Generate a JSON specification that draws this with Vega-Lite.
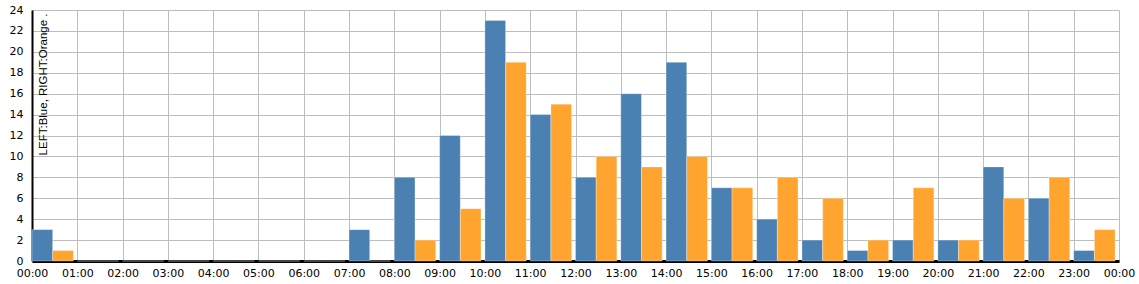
{
  "$schema": "https://vega.github.io/schema/vega-lite/v6.json",
  "width": 1087,
  "height": 251,
  "autosize": {"type": "none"},
  "padding": {"left": 32, "top": 10, "right": 20, "bottom": 23},
  "background": "white",
  "config": {"view": {"stroke": null}},
  "data": {
    "values": [
      {"hour": 0, "series": "Blue", "count": 3}, {"hour": 0, "series": "Orange", "count": 1},
      {"hour": 1, "series": "Blue", "count": 0}, {"hour": 1, "series": "Orange", "count": 0},
      {"hour": 2, "series": "Blue", "count": 0}, {"hour": 2, "series": "Orange", "count": 0},
      {"hour": 3, "series": "Blue", "count": 0}, {"hour": 3, "series": "Orange", "count": 0},
      {"hour": 4, "series": "Blue", "count": 0}, {"hour": 4, "series": "Orange", "count": 0},
      {"hour": 5, "series": "Blue", "count": 0}, {"hour": 5, "series": "Orange", "count": 0},
      {"hour": 6, "series": "Blue", "count": 0}, {"hour": 6, "series": "Orange", "count": 0},
      {"hour": 7, "series": "Blue", "count": 3}, {"hour": 7, "series": "Orange", "count": 0},
      {"hour": 8, "series": "Blue", "count": 8}, {"hour": 8, "series": "Orange", "count": 2},
      {"hour": 9, "series": "Blue", "count": 12}, {"hour": 9, "series": "Orange", "count": 5},
      {"hour": 10, "series": "Blue", "count": 23}, {"hour": 10, "series": "Orange", "count": 19},
      {"hour": 11, "series": "Blue", "count": 14}, {"hour": 11, "series": "Orange", "count": 15},
      {"hour": 12, "series": "Blue", "count": 8}, {"hour": 12, "series": "Orange", "count": 10},
      {"hour": 13, "series": "Blue", "count": 16}, {"hour": 13, "series": "Orange", "count": 9},
      {"hour": 14, "series": "Blue", "count": 19}, {"hour": 14, "series": "Orange", "count": 10},
      {"hour": 15, "series": "Blue", "count": 7}, {"hour": 15, "series": "Orange", "count": 7},
      {"hour": 16, "series": "Blue", "count": 4}, {"hour": 16, "series": "Orange", "count": 8},
      {"hour": 17, "series": "Blue", "count": 2}, {"hour": 17, "series": "Orange", "count": 6},
      {"hour": 18, "series": "Blue", "count": 1}, {"hour": 18, "series": "Orange", "count": 2},
      {"hour": 19, "series": "Blue", "count": 2}, {"hour": 19, "series": "Orange", "count": 7},
      {"hour": 20, "series": "Blue", "count": 2}, {"hour": 20, "series": "Orange", "count": 2},
      {"hour": 21, "series": "Blue", "count": 9}, {"hour": 21, "series": "Orange", "count": 6},
      {"hour": 22, "series": "Blue", "count": 6}, {"hour": 22, "series": "Orange", "count": 8},
      {"hour": 23, "series": "Blue", "count": 1}, {"hour": 23, "series": "Orange", "count": 3}
    ]
  },
  "transform": [
    {"calculate": "datum.hour + (datum.series === 'Blue' ? 0 : 0.457)", "as": "start"},
    {"calculate": "datum.start + 0.456", "as": "end"}
  ],
  "mark": {"type": "rect", "stroke": "white", "strokeOpacity": 0.3, "strokeWidth": 1},
  "encoding": {
    "x": {
      "field": "start",
      "type": "quantitative",
      "scale": {"domain": [0, 24], "nice": false, "zero": false},
      "axis": {
        "title": null,
        "values": [0,1,2,3,4,5,6,7,8,9,10,11,12,13,14,15,16,17,18,19,20,21,22,23,24],
        "labelExpr": "(datum.value % 24 < 10 ? '0' : '') + (datum.value % 24) + ':00'",
        "labelFont": "DejaVu Sans",
        "labelFontSize": 11,
        "labelColor": "#000000",
        "labelPadding": 6,
        "labelFlush": false,
        "labelOverlap": false,
        "ticks": false,
        "domainColor": "#000000",
        "domainWidth": 3,
        "grid": true,
        "gridColor": "#bdbdbd",
        "gridWidth": 1,
        "zindex": 0
      }
    },
    "x2": {"field": "end"},
    "y": {
      "field": "count",
      "type": "quantitative",
      "scale": {"domain": [0, 24], "nice": false},
      "axis": {
        "values": [0,2,4,6,8,10,12,14,16,18,20,22,24],
        "title": "LEFT:Blue, RIGHT:Orange .",
        "titleFont": "Liberation Sans",
        "titleFontSize": 11.5,
        "titleFontWeight": "normal",
        "titleColor": "#000000",
        "titleAngle": -90,
        "titleAlign": "right",
        "titleBaseline": "top",
        "titleX": 5,
        "titleY": 3,
        "labelFont": "DejaVu Sans",
        "labelFontSize": 11,
        "labelColor": "#000000",
        "labelPadding": 9,
        "ticks": false,
        "domainColor": "#000000",
        "domainWidth": 2,
        "grid": true,
        "gridColor": "#bdbdbd",
        "gridWidth": 1,
        "zindex": 0
      }
    },
    "color": {
      "field": "series",
      "type": "nominal",
      "scale": {"domain": ["Blue", "Orange"], "range": ["#4a80b2", "#ffa52f"]},
      "legend": null
    }
  }
}
